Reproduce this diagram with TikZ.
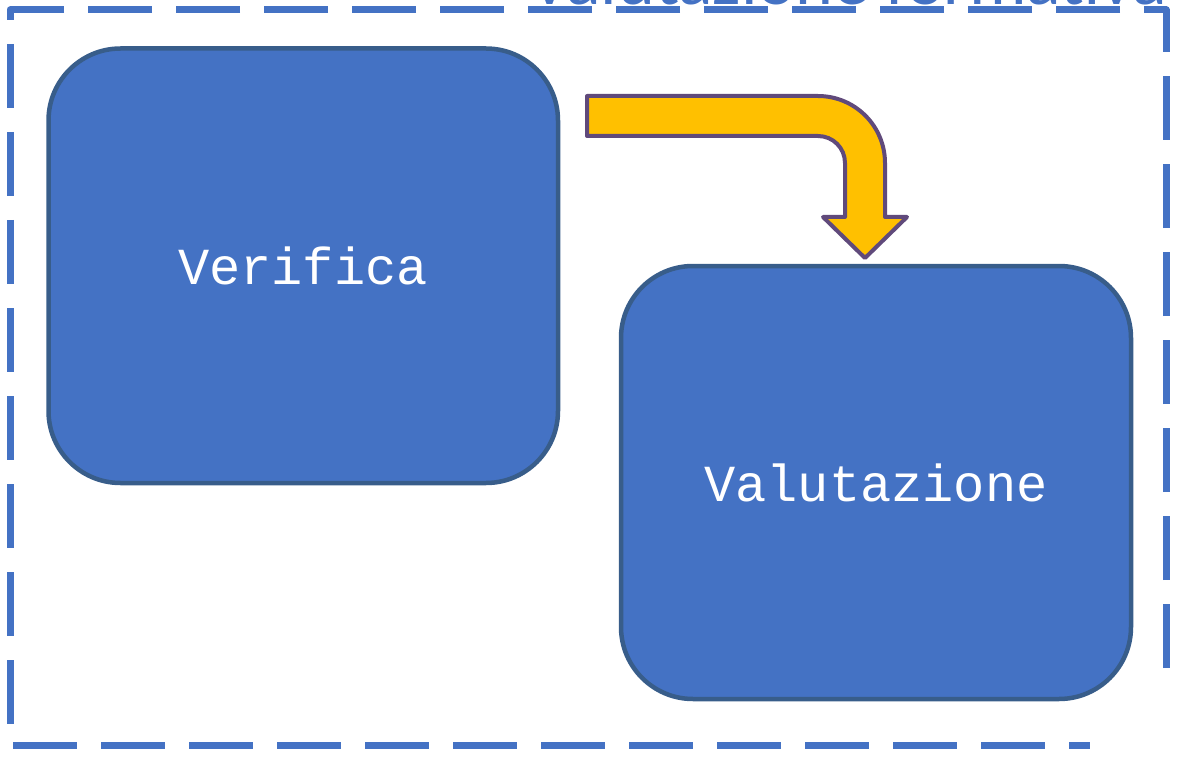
\documentclass[tikz,border=0pt]{standalone}
\usepackage{fontspec}
\newfontfamily\monofam{Liberation Mono}
\newfontfamily\titlefam{Carlito}
\definecolor{accblue}{HTML}{4472C4}
\definecolor{boxline}{HTML}{385D8A}
\definecolor{arrowfill}{HTML}{FFC000}
\definecolor{arrowline}{HTML}{604A7B}
\tikzset{
  stagebox/.style={draw=boxline, fill=accblue, line width=4.5pt, rounded corners=72pt},
  stagetext/.style={text=white, font=\monofam\fontsize{52}{52}\selectfont},
  framepath/.style={draw=accblue, line width=7pt, dash pattern=on 64pt off 24pt, line join=round},
  bentarrow/.style={draw=arrowline, fill=arrowfill, line width=4pt, line join=round}
}
\begin{document}
\begin{tikzpicture}[x=1pt,y=-1pt]
\useasboundingbox (0,0) rectangle (1179,757);
\clip (0,0) rectangle (1179,757);
% frame
\draw[framepath] (1166,668) -- (1166,10) -- (10,10) -- (10,745) -- (1090,745);
% title (cut off at top)
\node[anchor=base, inner sep=0pt, text=accblue, font=\titlefam\fontsize{72}{72}\selectfont] (title) at (848,5) {Valutazione formativa};
% boxes
\path[stagebox] (48.5,48.5) rectangle (558,483);
\path[stagebox] (621,266) rectangle (1131,699);
\node[stagetext] (verifica) at (303,266) {Verifica};
\node[stagetext] (valutazione) at (876,483) {Valutazione};
% bent arrow
\path[bentarrow] (587,96) -- (818,96) .. controls (855,96) and (885,126) .. (885,163)
  -- (885,217) -- (907,217) -- (865,258) -- (823,217) -- (845,217) -- (845,163)
  .. controls (845,148) and (833,136) .. (818,136) -- (587,136) -- cycle;
\end{tikzpicture}
\end{document}
